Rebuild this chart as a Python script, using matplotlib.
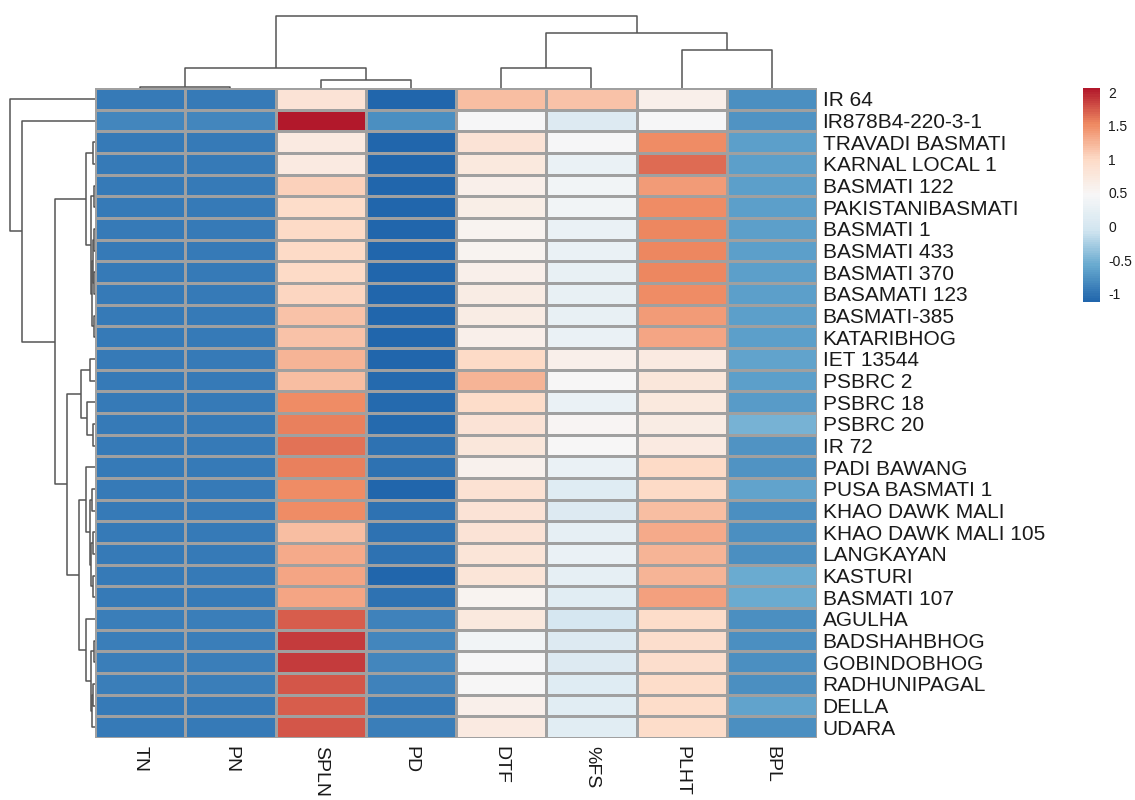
import numpy as np
import matplotlib
matplotlib.use("Agg")
import matplotlib.pyplot as plt
from matplotlib.colors import LinearSegmentedColormap

plt.rcParams['font.family'] = ['Liberation Sans', 'DejaVu Sans']

# genotypes (rows, top to bottom as shown)
genotypes = [
    "IR 64", "IR878B4-220-3-1", "TRAVADI BASMATI", "KARNAL LOCAL 1",
    "BASMATI 122", "PAKISTANIBASMATI", "BASMATI 1", "BASMATI 433",
    "BASMATI 370", "BASAMATI 123", "BASMATI-385", "KATARIBHOG",
    "IET 13544", "PSBRC 2", "PSBRC 18", "PSBRC 20", "IR 72",
    "PADI BAWANG", "PUSA BASMATI 1", "KHAO DAWK MALI",
    "KHAO DAWK MALI 105", "LANGKAYAN", "KASTURI", "BASMATI 107",
    "AGULHA", "BADSHAHBHOG", "GOBINDOBHOG", "RADHUNIPAGAL", "DELLA", "UDARA",
]
traits = ["TN", "PN", "SPLN", "PD", "DTF", "%FS", "PLHT", "BPL"]

# scaled trait values (one list per trait)
tn = [-0.95, -0.85, -0.95, -0.95, -0.96, -0.96, -0.96, -0.96, -0.96, -0.96,
      -0.96, -0.96, -0.95, -0.95, -0.95, -0.95, -0.95, -0.95, -0.95, -0.95,
      -0.95, -0.95, -0.95, -0.95, -0.92, -0.9, -0.9, -0.92, -0.93, -0.93]
pn = [-0.95, -0.85, -0.95, -0.95, -0.96, -0.96, -0.96, -0.96, -0.96, -0.96,
      -0.96, -0.96, -0.95, -0.95, -0.95, -0.95, -0.95, -0.95, -0.95, -0.95,
      -0.95, -0.95, -0.95, -0.95, -0.92, -0.9, -0.9, -0.92, -0.93, -0.93]
spln = [0.85, 2.06, 0.7, 0.72, 1.05, 0.95, 1.0, 1.0, 0.98, 1.02,
        1.15, 1.15, 1.25, 1.2, 1.5, 1.57, 1.62, 1.56, 1.5, 1.5,
        1.2, 1.3, 1.33, 1.33, 1.73, 1.9, 1.88, 1.76, 1.73, 1.75]
pd_ = [-1.1, -0.8, -1.1, -1.12, -1.1, -1.1, -1.1, -1.1, -1.1, -1.1,
       -1.1, -1.1, -1.12, -1.08, -1.08, -1.06, -1.0, -1.0, -1.1, -1.0,
       -1.0, -1.0, -1.1, -1.0, -0.88, -0.86, -0.86, -0.87, -0.96, -0.9]
dtf = [1.2, 0.45, 0.85, 0.75, 0.6, 0.65, 0.55, 0.55, 0.6, 0.68,
       0.68, 0.62, 0.98, 1.25, 0.95, 0.82, 0.77, 0.58, 0.86, 0.85,
       0.82, 0.8, 0.8, 0.55, 0.75, 0.38, 0.44, 0.47, 0.62, 0.72]
fs = [1.15, 0.1, 0.45, 0.3, 0.4, 0.38, 0.3, 0.3, 0.25, 0.25,
      0.25, 0.28, 0.62, 0.47, 0.28, 0.52, 0.5, 0.3, 0.15, 0.1,
      0.22, 0.3, 0.22, 0.18, 0.0, 0.1, 0.12, 0.13, 0.18, 0.17]
plht = [0.6, 0.45, 1.5, 1.65, 1.4, 1.5, 1.53, 1.53, 1.52, 1.5,
        1.4, 1.35, 0.7, 0.78, 0.75, 0.68, 0.72, 0.98, 1.0, 1.2,
        1.3, 1.25, 1.25, 1.38, 0.95, 0.92, 0.92, 0.96, 0.96, 0.95]
bpl = [-0.8, -0.75, -0.65, -0.65, -0.65, -0.65, -0.65, -0.65, -0.65, -0.65,
       -0.65, -0.65, -0.62, -0.65, -0.68, -0.5, -0.75, -0.77, -0.62, -0.8,
       -0.8, -0.8, -0.55, -0.55, -0.8, -0.8, -0.8, -0.8, -0.62, -0.8]

# clustering trees: (left, right, merge height), leaves are indices
row_tree = (0, (1, (
    ((2, 3, 2.5), ((4, 5, 1.5), (((6, 7, 1.0), (8, 9, 1.0), 2.0), (10, 11, 1.5), 3.0), 4.0), 9),
    (((12, 13, 5), (14, (15, 16, 2), 8), 14),
     ((17, ((18, 19, 3), ((20, 21, 2), (22, 23, 2.5), 4), 5.5), 9),
      (24, ((25, 26, 1), ((27, 28, 2), 29, 3), 4), 9), 16), 28), 40), 73), 85)
col_tree = (((0, 1, 1.0), (2, 3, 8), 20), ((4, 5, 20), (6, 7, 38), 55), 72)

data = np.array([tn, pn, spln, pd_, dtf, fs, plht, bpl]).T
vmin, vmax = -1.12, 2.06
cmap = LinearSegmentedColormap.from_list(
    "rdbu7", ["#2166AC", "#67A9CF", "#D1E5F0", "#F7F7F7", "#FDDBC7", "#EF8A62", "#B2182B"], N=100)

W, H = 1135, 800
fig = plt.figure(figsize=(W / 100, H / 100), dpi=100)


def box(l, t, r, b):
    return [l / W, 1 - b / H, (r - l) / W, (b - t) / H]


# heatmap
ax = fig.add_axes(box(95, 88, 817, 738))
ax.pcolormesh(data, cmap=cmap, vmin=vmin, vmax=vmax, edgecolors="#A0A0A0", linewidth=0.8)
ax.set_xlim(0, len(traits))
ax.set_ylim(len(genotypes), 0)
for s in ax.spines.values():
    s.set_visible(False)
ax.yaxis.tick_right()
ax.set_yticks(np.arange(len(genotypes)) + 0.5)
ax.set_yticklabels(genotypes, fontsize=15, color="#1a1a1a")
ax.set_xticks(np.arange(len(traits)) + 0.5)
ax.set_xticklabels(traits, fontsize=14, rotation=270, color="#1a1a1a", va="top")
ax.tick_params(length=0, pad=4, axis="y")
ax.tick_params(length=0, pad=6, axis="x")


def draw_tree(a, node, side):
    if isinstance(node, int):
        return node + 0.5, 0
    left, right, h = node
    pl, hl = draw_tree(a, left, side)
    pr, hr = draw_tree(a, right, side)
    if side == "top":
        a.plot([pl, pl, pr, pr], [hl, h, h, hr], color="#555555", lw=1.1, solid_capstyle="butt")
    else:
        a.plot([hl, h, h, hr], [pl, pl, pr, pr], color="#555555", lw=1.1, solid_capstyle="butt")
    return (pl + pr) / 2, h


# row dendrogram
axr = fig.add_axes(box(5, 88, 95, 738))
draw_tree(axr, row_tree, "left")
axr.set_xlim(90, 0)
axr.set_ylim(len(genotypes), 0)
axr.axis("off")

# column dendrogram
axc = fig.add_axes(box(95, 5, 817, 88))
draw_tree(axc, col_tree, "top")
axc.set_xlim(0, len(traits))
axc.set_ylim(0, 83)
axc.axis("off")

# colour legend
axl = fig.add_axes(box(1083, 88, 1100, 302))
grad = np.linspace(vmin, vmax, 100).reshape(-1, 1)
axl.pcolormesh([0, 1], np.linspace(vmin, vmax, 101), grad, cmap=cmap, vmin=vmin, vmax=vmax)
axl.set_ylim(vmin, vmax)
axl.set_xlim(0, 1)
axl.set_xticks([])
axl.yaxis.tick_right()
ticks = [-1, -0.5, 0, 0.5, 1, 1.5, 2]
axl.set_yticks(ticks)
axl.set_yticklabels(["-1", "-0.5", "0", "0.5", "1", "1.5", "2"], fontsize=10, color="#1a1a1a")
axl.tick_params(length=0, pad=6)
for s in axl.spines.values():
    s.set_visible(False)

fig.savefig("out.png", dpi=100, facecolor="white")
